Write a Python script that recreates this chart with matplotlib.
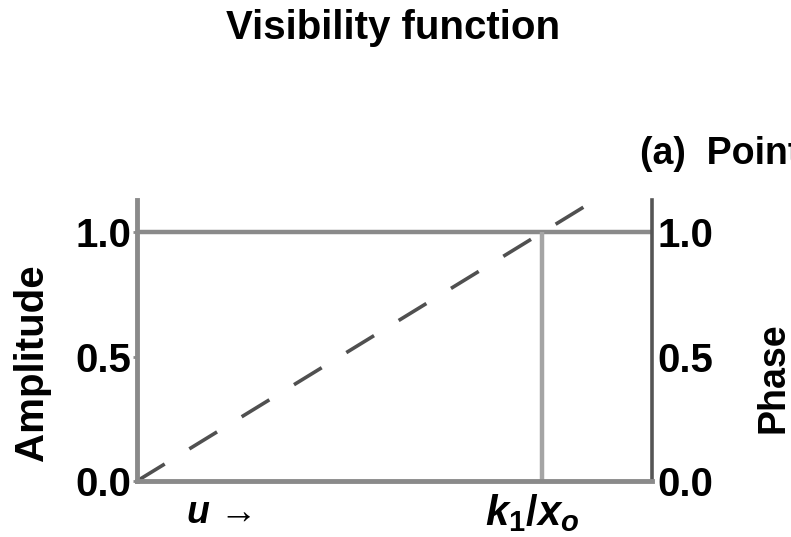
import matplotlib
matplotlib.use('Agg')
import matplotlib.pyplot as plt

# amplitude and phase of a point source visibility, u in units of k1/x0
amp_u = [0.0, 1.27]
amp = [1.0, 1.0]
cut_u = [1.0, 1.0]
cut_v = [0.0, 1.0]
phase_u = [0.0, 1.135]
phase = [0.0, 1.135]
yticks = [0.0, 0.5, 1.0]
ytick_labels = ['0.0', '0.5', '1.0']

plt.rcParams['font.family'] = ['Liberation Sans', 'DejaVu Sans']
plt.rcParams['mathtext.fontset'] = 'custom'
plt.rcParams['mathtext.it'] = 'Liberation Sans:italic:bold'
plt.rcParams['mathtext.rm'] = 'Liberation Sans:bold'

fig = plt.figure(figsize=(7.91, 5.37), dpi=100)
ax = fig.add_axes([0.1732, 0.1043, 0.651, 0.5233])
ax.set_xlim(0, 1.27)
ax.set_ylim(0, 1.13)

grey = '#8a8a8a'
ax.plot(amp_u, amp, color=grey, lw=3.2, solid_capstyle='butt')
ax.plot(cut_u, cut_v, color='#a5a5a5', lw=3.2, solid_capstyle='butt')
ax.plot(phase_u, phase, color='#505050', lw=2.6, dashes=(9, 8), clip_on=False)

ax.spines['top'].set_visible(False)
ax.spines['left'].set_color(grey)
ax.spines['left'].set_linewidth(3.5)
ax.spines['bottom'].set_color(grey)
ax.spines['bottom'].set_linewidth(3.5)
ax.spines['right'].set_color('#555555')
ax.spines['right'].set_linewidth(2.6)

ax.set_xticks([])
ax.set_yticks(yticks)
ax.set_yticklabels(ytick_labels, fontweight='bold')
ax.tick_params(axis='y', length=3, width=2, color=grey, pad=1, labelsize=29)

ax2 = ax.twinx()
ax2.set_ylim(0, 1.13)
for s in ax2.spines.values():
    s.set_visible(False)
ax2.set_yticks(yticks)
ax2.set_yticklabels(ytick_labels, fontweight='bold')
ax2.tick_params(axis='y', length=0, pad=4, labelsize=29)

ax.set_ylabel('Amplitude', fontsize=29, fontweight='bold')
ax.yaxis.set_label_coords(-0.167, 0.42)
fig.text(756 / 791, 1 - 378 / 537, 'Phase', rotation=90, fontsize=27,
         fontweight='bold', ha='left', va='center')

fig.text(0.497, 1 - 28 / 537, 'Visibility function', fontsize=29,
         fontweight='bold', ha='center', va='center')
fig.text(640 / 791, 1 - 154 / 537, '(a)  Point source', fontsize=27,
         fontweight='bold', ha='left', va='center')

ax.text(0.12, -0.05, r'$u$ →', fontsize=27, ha='left', va='top',
        transform=ax.get_xaxis_transform(), clip_on=False)
ax.text(0.975, -0.04, r'$k_1/x_o$', fontsize=30, ha='center', va='top',
        transform=ax.get_xaxis_transform(), clip_on=False)

fig.savefig('out.png', dpi=100)
